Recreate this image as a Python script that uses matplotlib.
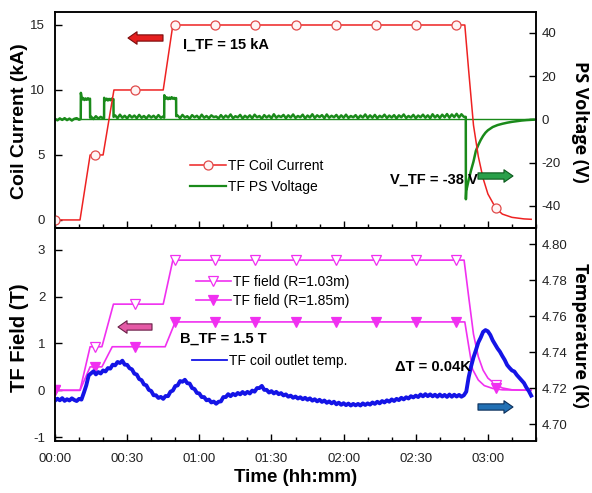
import numpy as np
import matplotlib
matplotlib.use("Agg")
import matplotlib.pyplot as plt
from matplotlib.patches import FancyArrowPatch
from matplotlib.lines import Line2D

plt.rcParams['font.family'] = ['Liberation Sans', 'DejaVu Sans']
plt.rcParams['axes.unicode_minus'] = False

# ---------------- data (time in minutes) ----------------
cur_t = [0, 10.4, 14.6, 20.0, 24.5, 45.0, 49.0, 170.4, 172, 174, 176, 178, 180, 183.3, 186, 190, 195, 198]
cur_kA = [0, 0, 5, 5, 10, 10, 15, 15, 11.5, 7.3, 4.9, 3.2, 2.0, 0.9, 0.45, 0.2, 0.08, 0.05]
mark_t = [0, 16.7, 33.3, 50, 66.7, 83.3, 100, 116.7, 133.3, 150, 166.7, 183.3]
cur_mark = [0, 5, 10, 15, 15, 15, 15, 15, 15, 15, 15, 0.9]

volt_t = ([0, 1, 2, 3, 4, 5, 6, 7, 8, 9, 10]
          + [10.7, 10.75, 11.2, 11.7, 12.2, 12.7, 13.2, 13.7, 14.2, 14.55, 14.6]
          + [15, 16, 17, 18, 19, 20]
          + [20.4, 20.45, 21.0, 21.5, 22.0, 22.5, 23.0, 23.5, 24.0, 24.3, 24.35]
          + list(range(25, 46))
          + [45.4, 45.45, 46.0, 46.5, 47.0, 47.5, 48.0, 48.5, 49.0, 49.5, 50.0, 50.35, 50.4]
          + list(range(51, 171))
          + [170.8, 170.85]
          + [171, 172, 173, 174, 175, 176, 177, 178, 179, 180, 182, 184, 186, 188, 190, 192, 194, 196, 198, 199])
volt_V = ([0.3, -0.4, 0.5, -0.2, 0.6, -0.3, 0.4, -0.5, 0.3, 0.6, -0.1]
          + [0.2, 12.3, 9.2, 9.9, 9.0, 9.7, 9.1, 9.8, 9.2, 9.6, 0.8]
          + [1.3, 0.2, 1.5, 0.4, 1.2, 0.5]
          + [0.6, 10.0, 8.9, 9.6, 8.8, 9.5, 8.9, 9.6, 9.0, 9.4, 1.2]
          + [1.9, 0.6, 2.2, 0.8, 1.7, 0.5, 2.0, 0.9, 1.8, 0.6, 2.1, 0.8, 1.6, 0.5, 1.9, 0.9, 1.7, 0.6, 2.0, 0.8, 1.4]
          + [0.8, 11.2, 9.6, 10.2, 9.4, 10.1, 9.5, 10.3, 9.6, 10.0, 9.4, 9.9, 1.5]
          + [1.8, 0.6, 2.1, 0.9, 1.5, 0.4, 2.0, 1.0, 1.7, 0.5, 2.2, 0.8, 1.6, 0.6, 1.9, 1.1, 1.4, 0.5, 2.0, 0.7,
             1.8, 0.9, 2.3, 0.6, 1.5, 1.0, 2.1, 0.5, 1.7, 0.8, 1.9, 0.6, 2.2, 1.0, 1.6, 0.4, 2.0, 0.9, 1.8, 0.6,
             2.4, 0.8, 1.7, 1.1, 2.1, 0.6, 1.9, 0.9, 2.3, 0.7, 1.6, 1.0, 2.2, 0.5, 1.8, 0.9, 2.4, 0.7, 1.9, 1.1,
             2.0, 0.6, 2.3, 0.8, 1.7, 1.0, 2.1, 0.6, 1.9, 0.8, 2.2, 0.7, 1.6, 1.0, 2.0, 0.5, 1.8, 0.9, 2.3, 0.7,
             1.9, 0.8, 2.1, 0.6, 1.7, 1.0, 2.2, 0.7, 1.8, 0.9, 2.0, 0.5, 1.9, 1.0, 2.3, 0.7, 1.6, 0.9, 2.1, 0.6,
             1.8, 1.0, 2.2, 0.8, 1.9, 0.6, 2.4, 0.9, 2.0, 0.7, 2.2, 1.0, 2.5, 0.8, 2.3, 1.1, 2.6, 0.9, 2.4, 1.2]
          + [1.2, -36.9]
          + [-33.0, -28.0, -23.5, -19.5, -14.5, -11.8, -9.5, -7.6, -6.1, -5.0, -3.5, -2.6, -2.0, -1.5, -1.1, -0.8, -0.5, -0.3, -0.2, -0.1])

f103_t = [0, 10.4, 14.6, 19.5, 24.3, 45.0, 49.0, 170.1, 172, 174, 176, 178, 180, 183.3, 186, 190, 198]
f103_T = [0, 0, 0.93, 0.93, 1.84, 1.84, 2.78, 2.78, 2.0, 1.2, 0.72, 0.43, 0.26, 0.12, 0.05, 0.01, 0.0]
f103_mark = [0, 0.93, 1.84, 2.78, 2.78, 2.78, 2.78, 2.78, 2.78, 2.78, 2.78, 0.12]
f185_t = [0, 10.4, 14.6, 19.5, 23.8, 45.8, 50.0, 170.4, 172, 173.6, 176, 178.5, 182, 186, 198]
f185_T = [0, 0, 0.5, 0.5, 0.93, 0.93, 1.46, 1.46, 0.95, 0.45, 0.22, 0.1, 0.04, 0.01, 0.0]
f185_mark = [0, 0.5, 0.93, 1.46, 1.46, 1.46, 1.46, 1.46, 1.46, 1.46, 1.46, 0.04]

temp_t = list(range(0, 199))
temp_mK = [13.0, 14.1, 13.2, 14.4, 12.9, 13.8, 13.1, 14.3, 13.4, 12.8, 14.0, 13.6, 17.4, 21.5, 27.0, 28.2, 29.3, 27.6, 28.9, 28.1,
           29.8, 29.2, 31.1, 30.8, 33.0, 32.6, 34.5, 33.9, 35.2, 33.0, 32.9, 31.0, 30.4, 28.0, 27.5, 25.0, 24.4, 22.0, 21.5, 19.0,
           18.4, 16.0, 16.0, 14.5, 15.1, 14.0, 15.6, 15.5, 18.0, 18.6, 21.1, 21.5, 23.9, 23.5, 24.6, 22.7, 22.5, 20.0, 19.5, 17.3,
           17.0, 15.0, 15.0, 13.2, 13.6, 12.0, 12.5, 11.3, 12.4, 12.6, 15.0, 15.0, 16.6, 15.5, 16.8, 16.0, 17.3, 16.5, 17.8, 16.7,
           17.9, 17.0, 18.6, 18.0, 20.0, 20.0, 21.2, 19.0, 19.0, 17.5, 18.3, 17.0, 17.9, 16.6, 17.2, 15.9, 16.5, 15.2, 15.8, 14.6,
           15.3, 14.2, 14.9, 13.8, 14.6, 13.5, 14.3, 13.0, 13.8, 12.6, 13.5, 12.3, 13.1, 11.8, 12.6, 11.5, 12.4, 11.0, 11.9, 10.7,
           11.6, 10.5, 11.4, 10.3, 11.2, 10.4, 11.2, 10.3, 11.5, 10.6, 11.5, 10.8, 12.0, 11.2, 12.4, 11.5, 12.8, 12.0, 13.2, 12.4,
           13.7, 12.8, 14.0, 13.3, 14.6, 13.7, 14.9, 14.2, 15.5, 14.8, 15.8, 15.0, 16.4, 15.4, 16.6, 15.5, 16.5, 15.4, 16.3, 15.2,
           16.4, 15.3, 16.2, 15.1, 16.4, 15.2, 16.3, 15.3, 16.2, 15.2, 16.0, 18.0, 26.0, 32.0, 37.0, 41.0, 45.3, 48.0, 51.2, 52.2,
           51.5, 49.5, 46.5, 44.3, 42.0, 40.2, 37.8, 35.6, 32.8, 31.2, 29.8, 29.2, 27.3, 25.8, 24.3, 22.8, 20.3, 18.4, 15.8]
temp_K = 4.7 + np.array(temp_mK) / 1000.0

time_ticks = [0, 30, 60, 90, 120, 150, 180]
time_labels = ['00:00', '00:30', '01:00', '01:30', '02:00', '02:30', '03:00']

RED = '#ee2222'
GREEN = '#1a8a1a'
MAG = '#f030f0'
BLUE = '#1414e6'
TICKC = '#222222'

W, H = 592, 493
fig = plt.figure(figsize=(W / 100, H / 100), dpi=100)

def fx(x):
    return x / W

def fy(y):
    return 1 - y / H

L, R = 55, 536
ax1 = fig.add_axes([fx(L), fy(228), fx(R) - fx(L), fy(12) - fy(228)])
ax3 = fig.add_axes([fx(L), fy(441), fx(R) - fx(L), fy(228) - fy(441)])
ax2 = ax1.twinx()
ax4 = ax3.twinx()

# ---- top panel ----
ax2.axhline(0, color=GREEN, lw=1.0)
ax2.plot(volt_t, volt_V, color=GREEN, lw=1.8)
ax1.plot(cur_t, cur_kA, color=RED, lw=1.1)
ax1.plot(mark_t, cur_mark, ls='none', marker='o', ms=6.5, mfc='#fff4f4', mec='#e04a4a', mew=0.9)
ax1.set_zorder(ax2.get_zorder() + 1)
ax1.patch.set_visible(False)

ax1.set_xlim(0, 200)
ax1.set_ylim(-0.62, 16.0)
ax2.set_ylim(-50.2, 49.7)
ax1.set_yticks([0, 5, 10, 15])
ax2.set_yticks([-40, -20, 0, 20, 40])
ax1.set_xticks(time_ticks)
ax1.set_xticklabels([])
ax1.set_xticks(np.arange(0, 201, 10), minor=True)

# ---- bottom panel ----
ax3.plot(f103_t, f103_T, color=MAG, lw=1.2)
ax3.plot(mark_t, f103_mark, ls='none', marker='v', ms=6.5, mfc='white', mec=MAG, mew=0.9)
ax3.plot(f185_t, f185_T, color=MAG, lw=1.2)
ax3.plot(mark_t, f185_mark, ls='none', marker='v', ms=6.5, mfc=MAG, mec=MAG, mew=0.9)
ax4.plot(temp_t, temp_K, color=BLUE, lw=2.8)

ax3.set_xlim(0, 200)
ax3.set_ylim(-1.083, 3.466)
ax4.set_ylim(4.6906, 4.8089)
ax3.set_yticks([-1, 0, 1, 2, 3])
ax4.set_yticks([4.70, 4.72, 4.74, 4.76, 4.78, 4.80])
ax4.set_yticklabels(['4.70', '4.72', '4.74', '4.76', '4.78', '4.80'])
ax3.set_xticks(time_ticks)
ax3.set_xticklabels(time_labels)
ax3.set_xticks(np.arange(0, 201, 10), minor=True)

for a in (ax1, ax2, ax3, ax4):
    for s in a.spines.values():
        s.set_linewidth(1.1)
    a.tick_params(axis='both', which='major', direction='in', length=5, width=1.0,
                  labelsize=9.5, labelcolor=TICKC)
    a.tick_params(axis='both', which='minor', direction='in', length=3, width=1.0)
for a in (ax1, ax3):
    a.tick_params(axis='y', pad=7)
    a.tick_params(axis='x', which='both', top=False)
for a in (ax2, ax4):
    a.tick_params(axis='y', pad=4)
ax3.tick_params(axis='x', pad=9)

# ---- axis labels ----
fig.text(fx(20), fy(121), 'Coil Current (kA)', rotation=90, ha='center', va='center',
         fontsize=14, fontweight='bold')
fig.text(fx(20), fy(338), 'TF Field (T)', rotation=90, ha='center', va='center',
         fontsize=14.5, fontweight='bold')
fig.text(fx(580), fy(122), 'PS Voltage (V)', rotation=270, ha='center', va='center',
         fontsize=13, fontweight='bold', family=['Open Sans', 'DejaVu Sans'])
fig.text(fx(580), fy(335), 'Temperature (K)', rotation=270, ha='center', va='center',
         fontsize=13, fontweight='bold', family=['Open Sans', 'DejaVu Sans'])
fig.text(fx(296), fy(478), 'Time (hh:mm)', ha='center', va='center',
         fontsize=13.5, fontweight='bold')

# ---- annotations ----
fig.text(fx(183), fy(45), 'I_TF = 15 kA', ha='left', va='center', fontsize=10.5, fontweight='bold')
fig.text(fx(390), fy(180), 'V_TF = -38 V', ha='left', va='center', fontsize=10.5, fontweight='bold')
fig.text(fx(180), fy(339), 'B_TF = 1.5 T', ha='left', va='center', fontsize=10.5, fontweight='bold')
fig.text(fx(395), fy(367), '\u0394T = 0.04K', ha='left', va='center', fontsize=10.5, fontweight='bold')

def arrow(x0, x1, y, fc, ec):
    p = FancyArrowPatch((fx(x0), fy(y)), (fx(x1), fy(y)), transform=fig.transFigure,
                        arrowstyle='simple,head_length=6.5,head_width=9,tail_width=4.5',
                        mutation_scale=1, shrinkA=0, shrinkB=0, fc=fc, ec=ec, lw=0.8)
    fig.patches.append(p)

arrow(163, 128, 38, '#e51f1f', '#7a0c0c')
arrow(478, 513, 176, '#2aa04a', '#0c5a1c')
arrow(152, 118, 327, '#e45aa6', '#6a1f48')
arrow(478, 513, 407, '#2270b4', '#0c2f5a')

# ---- legends ----
h1 = [Line2D([], [], color=RED, lw=1.1, marker='o', ms=6.5, mfc='#fff4f4', mec='#e04a4a', mew=0.9),
      Line2D([], [], color=GREEN, lw=1.6)]
fig.legend(h1, ['TF Coil Current', 'TF PS Voltage'], loc='upper left',
           bbox_to_anchor=(fx(190), fy(159)), bbox_transform=fig.transFigure,
           frameon=False, fontsize=10, handlelength=2.6, handletextpad=0.15,
           labelspacing=0.5, borderpad=0, borderaxespad=0)
h2 = [Line2D([], [], color=MAG, lw=1.2, marker='v', ms=6.5, mfc='white', mec=MAG, mew=0.9),
      Line2D([], [], color=MAG, lw=1.2, marker='v', ms=6.5, mfc=MAG, mec=MAG, mew=0.9)]
fig.legend(h2, ['TF field (R=1.03m)', 'TF field (R=1.85m)'], loc='upper left',
           bbox_to_anchor=(fx(196), fy(275)), bbox_transform=fig.transFigure,
           frameon=False, fontsize=10, handlelength=2.5, handletextpad=0.15,
           labelspacing=0.35, borderpad=0, borderaxespad=0)
h3 = [Line2D([], [], color=BLUE, lw=1.3)]
fig.legend(h3, ['TF coil outlet temp.'], loc='upper left',
           bbox_to_anchor=(fx(192), fy(354)), bbox_transform=fig.transFigure,
           frameon=False, fontsize=10, handlelength=2.5, handletextpad=0.15,
           borderpad=0, borderaxespad=0)

fig.savefig('out.png', dpi=100)
